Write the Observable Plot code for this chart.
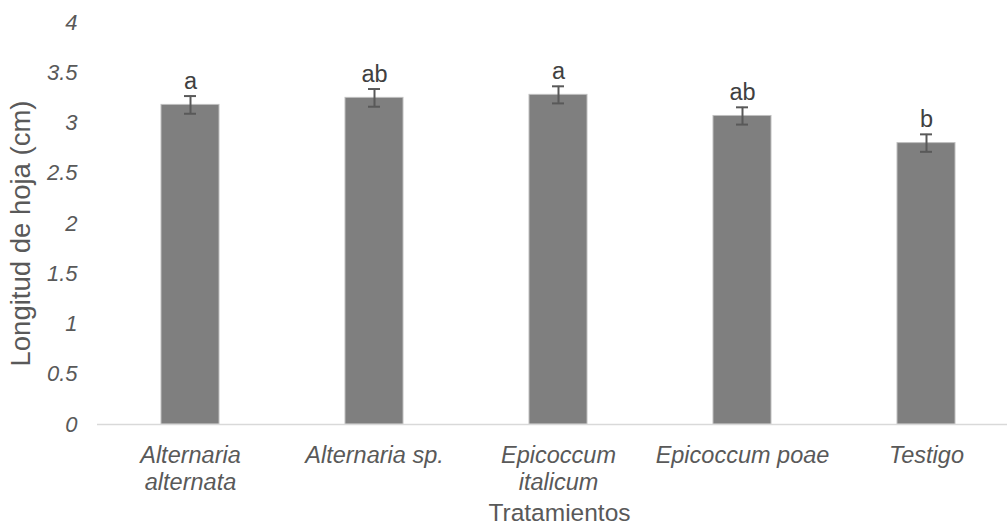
<!DOCTYPE html>
<html>
<head>
<meta charset="utf-8">
<script src="https://cdn.jsdelivr.net/npm/d3@7"></script>
<script src="https://cdn.jsdelivr.net/npm/@observablehq/plot@0.6"></script>
<style>
  html, body { margin: 0; padding: 0; background: #fff; overflow: hidden; }
  #chart svg { overflow: hidden; }
</style>
</head>
<body>
<div id="chart"></div>
<script>
const categories = ["Alternaria alternata", "Alternaria sp.", "Epicoccum italicum", "Epicoccum poae", "Testigo"];
const categoryLabels = ["Alternaria\nalternata", "Alternaria sp.", "Epicoccum\nitalicum", "Epicoccum poae", "Testigo"];
const means = [3.18, 3.25, 3.28, 3.07, 2.80];
const errors = [0.088, 0.088, 0.085, 0.086, 0.087];
const letters = ["a", "ab", "a", "ab", "b"];
const yTicks = [0, 0.5, 1, 1.5, 2, 2.5, 3, 3.5, 4];
const xTitle = "Tratamientos";
const yTitle = "Longitud de hoja (cm)";

const data = categories.map((c, i) => ({
  cat: c, label: categoryLabels[i], mean: means[i], err: errors[i], letter: letters[i]
}));

const font = "'Liberation Sans', Arial, sans-serif";

const chart = Plot.plot({
  width: 1007,
  height: 527,
  marginLeft: 97,
  marginRight: 0,
  marginTop: 22,
  marginBottom: 103,
  style: { fontFamily: font, background: "#fff", overflow: "hidden" },
  x: { domain: categories, range: [97, 1019], paddingInner: 0.685, paddingOuter: 0.3425, axis: null },
  y: { domain: [0, 4], range: [424, 22], axis: null },
  marks: [
    Plot.barY(data, { x: "cat", y: "mean", fill: "#7f7f7f", stroke: "#bfbfbf", strokeWidth: 1 }),
    Plot.ruleY([0], { stroke: "#d9d9d9", strokeWidth: 1.5 }),
    Plot.ruleX(data, { x: "cat", y1: d => d.mean - d.err, y2: d => d.mean + d.err, stroke: "#595959", strokeWidth: 2 }),
    Plot.tickY(data, { x: "cat", y: d => d.mean + d.err, stroke: "#595959", strokeWidth: 2, insetLeft: 23, insetRight: 23 }),
    Plot.tickY(data, { x: "cat", y: d => d.mean - d.err, stroke: "#595959", strokeWidth: 2, insetLeft: 23, insetRight: 23 }),
    Plot.text(data, { x: "cat", y: d => d.mean + d.err, text: "letter", dy: -7, lineAnchor: "bottom", fontSize: 23.5, fill: "#404040" }),
    Plot.axisY({ ticks: yTicks, tickFormat: d => String(d), tickSize: 0, tickPadding: 20, fontSize: 22, fontStyle: "italic", color: "#595959", label: null }),
    Plot.text(data, { x: "cat", text: "label", frameAnchor: "bottom", lineAnchor: "top", dy: 19, lineHeight: 1.15, fontSize: 23.5, fontStyle: "italic", fill: "#595959" }),
    Plot.text([xTitle], { frameAnchor: "bottom", textAnchor: "middle", dx: 7, dy: 79, lineAnchor: "top", fontSize: 24.5, fill: "#595959" }),
    Plot.text([yTitle], { frameAnchor: "left", textAnchor: "middle", dx: -76, dy: 10, rotate: -90, fontSize: 27.5, fill: "#595959" })
  ]
});

document.getElementById("chart").appendChild(chart);
</script>
</body>
</html>
